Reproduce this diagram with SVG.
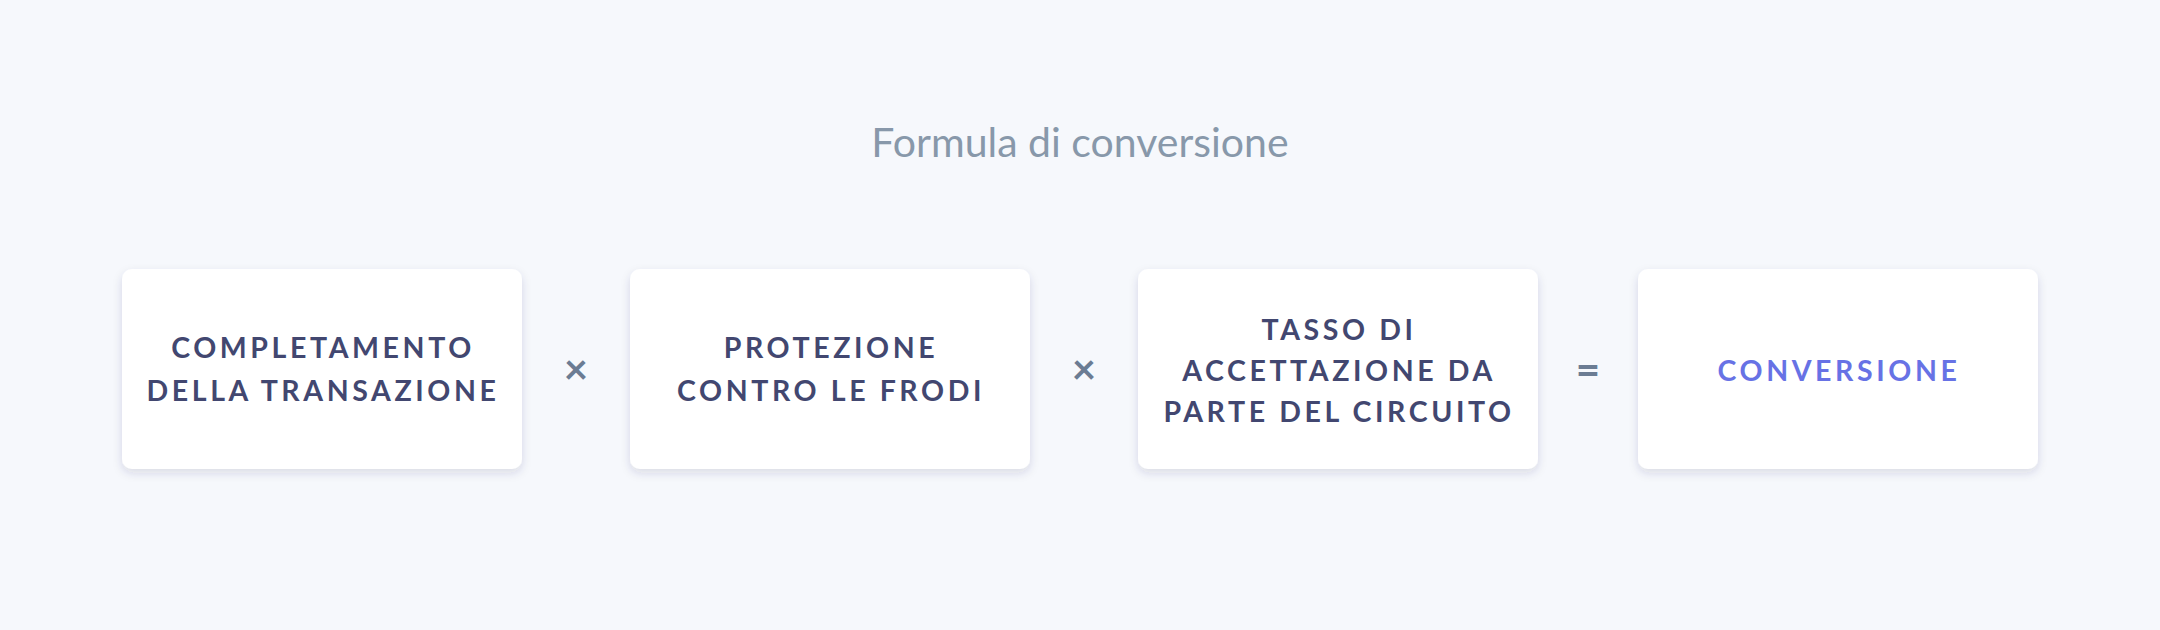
<svg xmlns="http://www.w3.org/2000/svg" width="2160" height="630" viewBox="0 0 2160 630">
<defs>
<filter id="sh" x="-10%" y="-10%" width="120%" height="130%">
<feDropShadow dx="0" dy="4" stdDeviation="5" flood-color="#32325d" flood-opacity="0.14"/>
</filter>
<style>
.box{fill:#ffffff;filter:url(#sh)}
.lbl{font-family:Lato,"Liberation Sans",sans-serif;font-weight:700;font-size:28.5px;letter-spacing:3.6px;fill:#424770;text-anchor:middle}
.res{fill:#6772e5}
.op{font-family:Lato,"Liberation Sans",sans-serif;font-weight:700;font-size:42px;fill:#6b7c93;text-anchor:middle}
.title{font-family:Lato,"Open Sans",sans-serif;font-size:41px;fill:#8898aa;text-anchor:middle}
</style>
</defs>
<rect width="2160" height="630" fill="#f6f8fc"/>
<text class="title" x="1080" y="157">Formula di conversione</text>
<g id="node-completamento">
<rect class="box" x="122" y="269" width="400" height="200" rx="10"/>
<text class="lbl" x="323" y="358">COMPLETAMENTO</text>
<text class="lbl" x="323" y="401">DELLA TRANSAZIONE</text>
</g>
<g id="node-protezione">
<rect class="box" x="630" y="269" width="400" height="200" rx="10"/>
<text class="lbl" x="831" y="358">PROTEZIONE</text>
<text class="lbl" x="831" y="401">CONTRO LE FRODI</text>
</g>
<g id="node-tasso">
<rect class="box" x="1138" y="269" width="400" height="200" rx="10"/>
<text class="lbl" x="1339" y="340">TASSO DI</text>
<text class="lbl" x="1339" y="381">ACCETTAZIONE DA</text>
<text class="lbl" x="1339" y="422">PARTE DEL CIRCUITO</text>
</g>
<g id="node-conversione">
<rect class="box" x="1638" y="269" width="400" height="200" rx="10"/>
<text class="lbl res" x="1839" y="381">CONVERSIONE</text>
</g>
<g id="connectors">
<text class="op" x="576" y="384">×</text>
<text class="op" x="1084" y="384">×</text>
<text class="op" x="1588" y="385" font-size="48">=</text>
</g>
</svg>
